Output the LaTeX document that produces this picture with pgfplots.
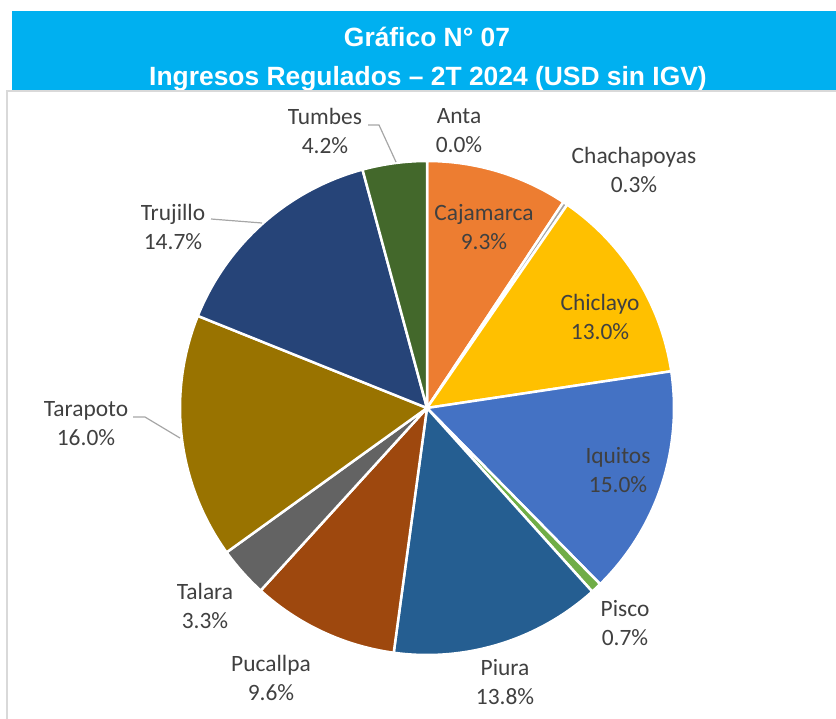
\documentclass[border=0pt]{standalone}
\usepackage{pgfplots}
\pgfplotsset{compat=1.18}
\usepackage{pgfplotstable}
\usepackage{fontspec}
\setmainfont{Carlito}
\newfontfamily\titlefont{Liberation Sans}

\definecolor{banner}{HTML}{00B0F0}
\definecolor{lblgray}{HTML}{404040}
\definecolor{leader}{HTML}{A6A6A6}
\definecolor{frame}{HTML}{D9D9D9}
\definecolor{cAnta}{HTML}{5B9BD5}
\definecolor{cCaj}{HTML}{ED7D31}
\definecolor{cChach}{HTML}{A5A5A5}
\definecolor{cChic}{HTML}{FFC000}
\definecolor{cIqu}{HTML}{4472C4}
\definecolor{cPis}{HTML}{70AD47}
\definecolor{cPiu}{HTML}{255E91}
\definecolor{cPuc}{HTML}{9E480E}
\definecolor{cTal}{HTML}{636363}
\definecolor{cTar}{HTML}{997300}
\definecolor{cTru}{HTML}{264478}
\definecolor{cTum}{HTML}{43682B}

% participacion (%) de cada empresa, en el orden del grafico (horario desde las 12)
\pgfplotstableread{
name        value color  lx  ly
Anta        0.0   cAnta  459 131
Cajamarca   9.3   cCaj   484 227
Chachapoyas 0.3   cChach 634 170
Chiclayo    13.0  cChic  600 317
Iquitos     15.0  cIqu   618 470
Pisco       0.7   cPis   625 623
Piura       13.8  cPiu   505 682
Pucallpa    9.6   cPuc   271 678
Talara      3.3   cTal   205 606
Tarapoto    16.0  cTar   86  424
Trujillo    14.7  cTru   173 227
Tumbes      4.2   cTum   325 131
}\pies

\begin{document}
\begin{tikzpicture}
\begin{axis}[
    width=836bp, height=719bp, scale only axis,
    xmin=0, xmax=836, ymin=0, ymax=719,
    y dir=reverse,
    hide axis, clip=false,
  ]
  % banner del titulo
  \fill[banner] (axis cs:12,11) rectangle (axis cs:836,90);
  \node[anchor=base, text=white, font=\titlefont\bfseries\fontsize{26.5}{30}\selectfont] at (axis cs:427,47) {Gráfico N° 07};
  \node[anchor=base, text=white, font=\titlefont\bfseries\fontsize{26.5}{30}\selectfont] at (axis cs:428,86) {Ingresos Regulados – 2T 2024 (USD sin IGV)};
  \draw[frame, line width=2bp] (axis cs:7,719) -- (axis cs:7,91) -- (axis cs:836,91);

  % sectores
  \def\cum{0}
  \pgfplotsforeachungrouped \i in {0,...,11}{
    \pgfplotstablegetelem{\i}{value}\of\pies \let\sv\pgfplotsretval
    \pgfplotstablegetelem{\i}{color}\of\pies \let\sc\pgfplotsretval
    \pgfmathsetmacro{\sa}{90-\cum*3.6036036}
    \pgfmathsetmacro{\sb}{90-(\cum+\sv)*3.6036036}
    \edef\temp{\noexpand\filldraw[fill=\sc, draw=white, line width=2.5bp, line join=round]
      (axis cs:427,408) -- ++(\sa:247bp) arc[start angle=\sa, end angle=\sb, radius=247bp] -- cycle;}
    \temp
    \pgfmathsetmacro{\cum}{\cum+\sv}
  }

  % lineas guia
  \draw[leader, line width=1.2bp] (axis cs:368,125) -- (axis cs:379,125) -- (axis cs:396,162);
  \draw[leader, line width=1.2bp] (axis cs:211,219) -- (axis cs:262,223);
  \draw[leader, line width=1.2bp] (axis cs:133,417) -- (axis cs:145,417) -- (axis cs:180,438);

  % etiquetas
  \pgfplotsforeachungrouped \i in {0,...,11}{
    \pgfplotstablegetelem{\i}{name}\of\pies \let\sn\pgfplotsretval
    \pgfplotstablegetelem{\i}{value}\of\pies \let\sv\pgfplotsretval
    \pgfplotstablegetelem{\i}{lx}\of\pies \let\slx\pgfplotsretval
    \pgfplotstablegetelem{\i}{ly}\of\pies \let\sly\pgfplotsretval
    \edef\temp{\noexpand\node[align=center, text=lblgray, font=\noexpand\fontsize{23.5}{29}\noexpand\selectfont]
      at (axis cs:\slx,\sly) {\sn\noexpand\\\sv\noexpand\%};}
    \temp
  }
\end{axis}
\pgfresetboundingbox
\path (0,0) rectangle (836bp,719bp);
\end{tikzpicture}
\end{document}
